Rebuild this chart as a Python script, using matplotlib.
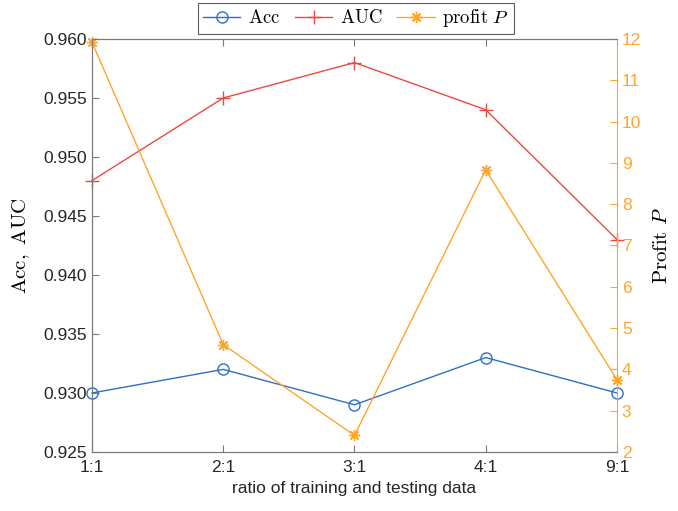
import numpy as np
import matplotlib
matplotlib.use("Agg")
import matplotlib.pyplot as plt

# data
ratios = ["1:1", "2:1", "3:1", "4:1", "9:1"]
acc = [0.930, 0.932, 0.929, 0.933, 0.930]
auc = [0.948, 0.955, 0.958, 0.954, 0.943]
profit = [11.92, 4.6, 2.4, 8.83, 3.75]

plt.rcParams["font.family"] = ["Liberation Sans", "DejaVu Sans"]
plt.rcParams["mathtext.fontset"] = "cm"

blue = "#2F6FC4"
red = "#EA4B40"
orange = "#FFA52B"
axis_gray = "#7A7A7A"

fig = plt.figure(figsize=(6.78, 5.11), dpi=100)
ax = fig.add_axes([0.1357, 0.1155, 0.7743, 0.8082])
ax2 = ax.twinx()

x = np.arange(len(ratios))
l1, = ax.plot(x, acc, color=blue, lw=1.0, marker="o", ms=8, mfc="none", mew=1.0,
              clip_on=False, label=r"$\mathrm{Acc}$")
l2, = ax.plot(x, auc, color=red, lw=1.0, marker="+", ms=10, mew=1.0,
              clip_on=False, label=r"$\mathrm{AUC}$")
l3, = ax2.plot(x, profit, color=orange, lw=1.0, marker=(8, 2, 0), ms=8, mew=1.0,
               clip_on=False, label=r"$\mathrm{profit}\ P$")

ax.set_xlim(0, len(ratios) - 1)
ax.set_xticks(x)
ax.set_xticklabels(ratios)
ax.set_ylim(0.925, 0.960)
ax.set_yticks(np.arange(0.925, 0.9601, 0.005))
ax.set_yticklabels(["%.3f" % v for v in np.arange(0.925, 0.9601, 0.005)])
ax2.set_ylim(2, 12)
ax2.set_yticks(range(2, 13))

ax.tick_params(axis="x", direction="in", top=True, length=5, labelsize=12.5, colors=axis_gray, labelcolor="#262626", pad=6)
ax.tick_params(axis="y", direction="in", length=5, labelsize=12.5, colors=axis_gray, labelcolor="#262626")
ax2.tick_params(axis="y", direction="in", length=5, labelsize=12.5, colors=orange, labelcolor=orange)

for s in ["left", "top", "bottom"]:
    ax.spines[s].set_color(axis_gray)
    ax2.spines[s].set_color(axis_gray)
ax2.spines["right"].set_color(orange)
ax.spines["right"].set_visible(False)

ax.set_xlabel("ratio of training and testing data", fontsize=12.5, color="#262626", labelpad=4)
ax.set_ylabel(r"$\mathrm{Acc,\ AUC}$", fontsize=15, labelpad=8)
ax2.set_ylabel(r"$\mathrm{Profit}\ P$", fontsize=15, labelpad=8)

leg = ax.legend(handles=[l1, l2, l3], loc="lower center", bbox_to_anchor=(0.503, 1.012),
                ncol=3, fontsize=13.5, frameon=True, fancybox=False, edgecolor="#333333",
                handlelength=2.0, columnspacing=0.8, borderpad=0.25, handletextpad=0.4,
                borderaxespad=0)
leg.get_frame().set_linewidth(0.8)

fig.savefig("out.png", dpi=100)
